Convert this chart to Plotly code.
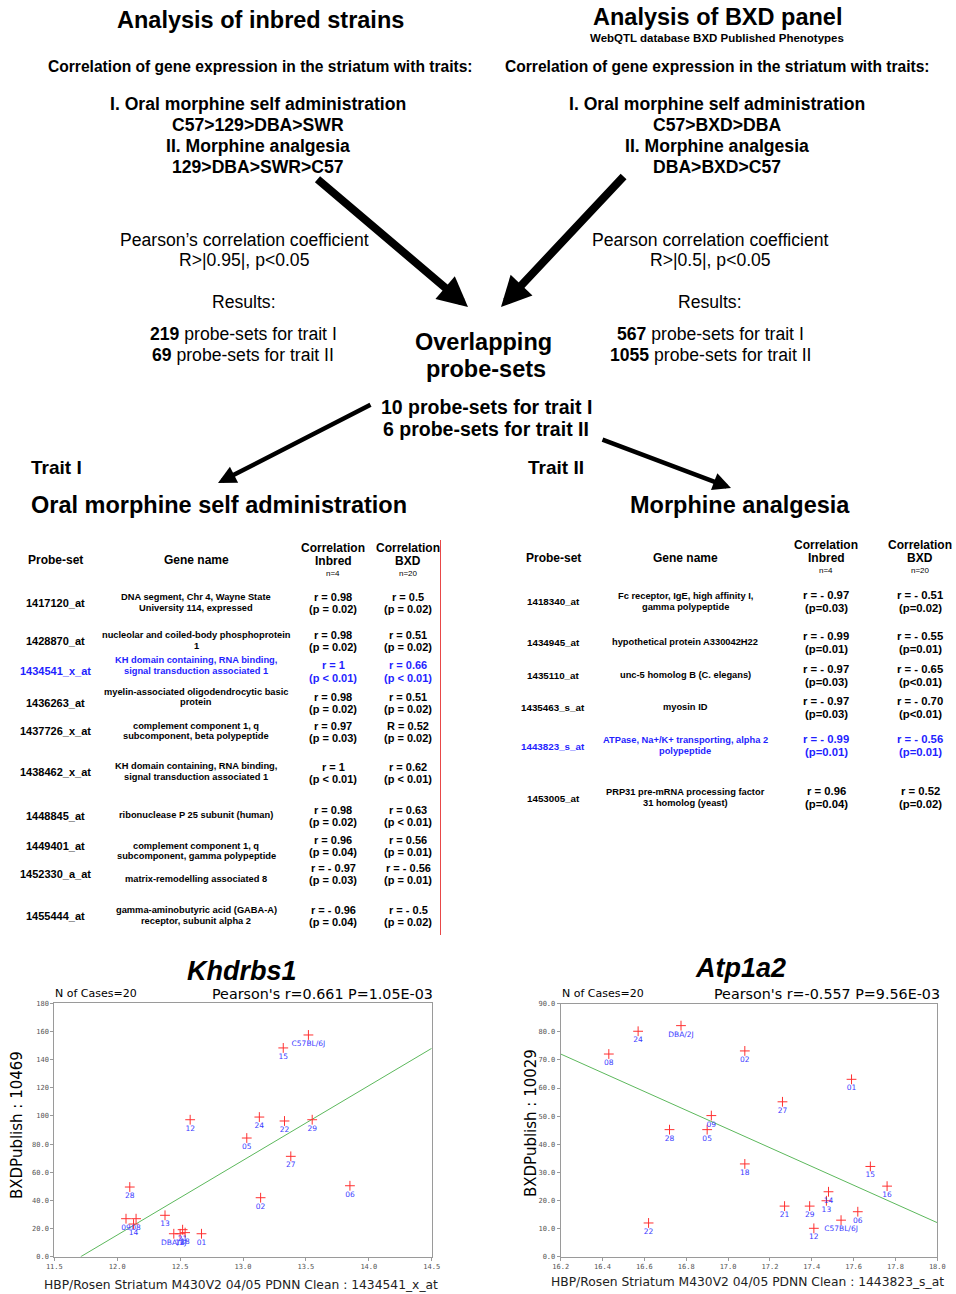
import plotly.graph_objects as go

W, H = 956, 1294
ARIAL = "Liberation Sans, Arial, sans-serif"
VERD = "DejaVu Sans, Verdana, sans-serif"
MONO = "DejaVu Sans Mono, monospace"

# ---------------- data: scatter plots ----------------
left_strains = ["C57BL/6J", "15", "12", "24", "22", "29", "05", "27", "28", "02",
                "06", "09", "08", "14", "13", "DBA/2J", "16", "21", "18", "01"]
left_x = [13.52, 13.32, 12.58, 13.13, 13.33, 13.55, 13.03, 13.38, 12.10, 13.14,
          13.85, 12.07, 12.15, 12.13, 12.38, 12.45, 12.50, 12.52, 12.54, 12.67]
left_y = [157.5, 148.3, 97.3, 99.2, 96.4, 97.3, 84.3, 71.3, 49.5, 41.9,
          50.4, 27.0, 27.0, 23.2, 29.4, 16.3, 16.3, 19.2, 17.1, 16.3]
left_fit_x = [11.71, 14.5]
left_fit_y = [0.0, 148.0]
left_xticks = [11.5, 12.0, 12.5, 13.0, 13.5, 14.0, 14.5]
left_xtick_labels = ["11.5", "12.0", "12.5", "13.0", "13.5", "14.0", "14.5"]
left_yticks = [0, 20, 40, 60, 80, 100, 120, 140, 160, 180]
left_ytick_labels = ["0.0", "20.0", "40.0", "60.0", "80.0", "100", "120", "140", "160", "180"]

right_strains = ["08", "24", "DBA/2J", "02", "01", "27", "09", "05", "28", "18",
                 "15", "16", "14", "13", "21", "29", "06", "C57BL/6J", "12", "22"]
right_x = [16.43, 16.57, 16.775, 17.08, 17.59, 17.26, 16.92, 16.90, 16.72, 17.08,
           17.68, 17.76, 17.48, 17.47, 17.27, 17.39, 17.62, 17.54, 17.41, 16.62]
right_y = [72.1, 80.2, 82.2, 73.2, 63.1, 55.1, 50.2, 45.2, 45.2, 33.0,
           32.1, 25.1, 23.1, 19.9, 18.0, 18.0, 16.0, 13.0, 10.1, 12.0]
right_fit_x = [16.2, 18.0]
right_fit_y = [72.1, 12.1]
right_xticks = [16.2, 16.4, 16.6, 16.8, 17.0, 17.2, 17.4, 17.6, 17.8, 18.0]
right_xtick_labels = ["16.2", "16.4", "16.6", "16.8", "17.0", "17.2", "17.4", "17.6", "17.8", "18.0"]
right_yticks = [0, 10, 20, 30, 40, 50, 60, 70, 80, 90]
right_ytick_labels = ["0.0", "10.0", "20.0", "30.0", "40.0", "50.0", "60.0", "70.0", "80.0", "90.0"]

# ---------------- data: tables ----------------
t1_probes = ["1417120_at", "1428870_at", "1434541_x_at", "1436263_at", "1437726_x_at",
             "1438462_x_at", "1448845_at", "1449401_at", "1452330_a_at", "1455444_at"]
t1_genes = ["DNA segment, Chr 4, Wayne State<br>University 114, expressed",
            "nucleolar and coiled-body phosphoprotein<br>1",
            "KH domain containing, RNA binding,<br>signal transduction associated 1",
            "myelin-associated oligodendrocytic basic<br>protein",
            "complement component 1, q<br>subcomponent, beta polypeptide",
            "KH domain containing, RNA binding,<br>signal transduction associated 1",
            "ribonuclease P 25 subunit (human)",
            "complement component 1, q<br>subcomponent, gamma polypeptide",
            "matrix-remodelling associated 8",
            "gamma-aminobutyric acid (GABA-A)<br>receptor, subunit alpha 2"]
t1_r_inbred = ["r = 0.98", "r = 0.98", "r = 1", "r = 0.98", "r = 0.97",
               "r = 1", "r = 0.98", "r = 0.96", "r = - 0.97", "r = - 0.96"]
t1_p_inbred = ["(p = 0.02)", "(p = 0.02)", "(p &lt; 0.01)", "(p = 0.02)", "(p = 0.03)",
               "(p &lt; 0.01)", "(p = 0.02)", "(p = 0.04)", "(p = 0.03)", "(p = 0.04)"]
t1_r_bxd = ["r = 0.5", "r = 0.51", "r = 0.66", "r = 0.51", "R = 0.52",
            "r = 0.62", "r = 0.63", "r = 0.56", "r = - 0.56", "r = - 0.5"]
t1_p_bxd = ["(p = 0.02)", "(p = 0.02)", "(p &lt; 0.01)", "(p = 0.02)", "(p = 0.02)",
            "(p &lt; 0.01)", "(p &lt; 0.01)", "(p = 0.01)", "(p = 0.01)", "(p = 0.02)"]
t1_highlight = 2

t2_probes = ["1418340_at", "1434945_at", "1435110_at", "1435463_s_at", "1443823_s_at", "1453005_at"]
t2_genes = ["Fc receptor, IgE, high affinity I,<br>gamma polypeptide",
            "hypothetical protein A330042H22",
            "unc-5 homolog B (C. elegans)",
            "myosin ID",
            "ATPase, Na+/K+ transporting, alpha 2<br>polypeptide",
            "PRP31 pre-mRNA processing factor<br>31 homolog (yeast)"]
t2_r_inbred = ["r = - 0.97", "r = - 0.99", "r = - 0.97", "r = - 0.97", "r = - 0.99", "r = 0.96"]
t2_p_inbred = ["(p=0.03)", "(p=0.01)", "(p=0.03)", "(p=0.03)", "(p=0.01)", "(p=0.04)"]
t2_r_bxd = ["r = - 0.51", "r = - 0.55", "r = - 0.65", "r = - 0.70", "r = - 0.56", "r = 0.52"]
t2_p_bxd = ["(p=0.02)", "(p=0.01)", "(p&lt;0.01)", "(p&lt;0.01)", "(p=0.01)", "(p=0.02)"]
t2_highlight = 4

# ---------------- layout helpers (pixel positions) ----------------
ann = []


def txt(x, y, s, size, bold=False, italic=False, color="black", family=ARIAL,
        xanchor="center", angle=0):
    if bold:
        s = "<b>" + s + "</b>"
    if italic:
        s = "<i>" + s + "</i>"
    ann.append(dict(x=x / W, y=1 - y / H, xref="paper", yref="paper", text=s,
                    showarrow=False, xanchor=xanchor, yanchor="middle", textangle=angle,
                    borderpad=0, font=dict(size=size, color=color, family=family)))


def lines(x, yc, s, size, spacing, **kw):
    parts = s.split("<br>")
    n = len(parts)
    for i, p in enumerate(parts):
        txt(x, yc + (i - (n - 1) / 2) * spacing, p, size, **kw)


def arrow(x0, y0, x1, y1, width, size):
    ann.append(dict(x=x1 / W, y=1 - y1 / H, xref="paper", yref="paper", text="",
                    showarrow=True, ax=x0 - x1, ay=y0 - y1, axref="pixel", ayref="pixel",
                    arrowhead=2, arrowwidth=width, arrowsize=size, arrowcolor="black"))


# ---------------- header ----------------
txt(260, 20, "Analysis of inbred strains", 23.5, bold=True)
txt(717, 17, "Analysis of BXD panel", 23.5, bold=True)
txt(717, 38, "WebQTL database BXD Published Phenotypes", 11.5, bold=True)
txt(260, 66, "Correlation of gene expression in the striatum with traits:", 15.6, bold=True)
txt(717, 66, "Correlation of gene expression in the striatum with traits:", 15.6, bold=True)
for i, (l, r) in enumerate(zip(["I. Oral morphine self administration", "C57&gt;129&gt;DBA&gt;SWR",
                                "II. Morphine analgesia", "129&gt;DBA&gt;SWR&gt;C57"],
                               ["I. Oral morphine self administration", "C57&gt;BXD&gt;DBA",
                                "II. Morphine analgesia", "DBA&gt;BXD&gt;C57"])):
    txt(258, 104 + 21 * i, l, 17.6, bold=True)
    txt(717, 104 + 21 * i, r, 17.6, bold=True)

txt(244, 240, "Pearson\u2019s correlation coefficient", 17.6)
txt(244, 260, "R&gt;|0.95|, p&lt;0.05", 17.6)
txt(244, 302, "Results:", 17.6)
txt(243, 334, "<b>219</b> probe-sets for trait I", 17.6)
txt(243, 355, "<b>69</b> probe-sets for trait II", 17.6)

txt(710, 240, "Pearson correlation coefficient", 17.6)
txt(710, 260, "R&gt;|0.5|, p&lt;0.05", 17.6)
txt(710, 302, "Results:", 17.6)
txt(710, 334, "<b>567</b> probe-sets for trait I", 17.6)
txt(710, 355, "<b>1055</b> probe-sets for trait II", 17.6)

txt(483, 342, "Overlapping", 23.5, bold=True)
txt(486, 369, "probe-sets", 23.5, bold=True)
txt(486, 407, "10 probe-sets for trait I", 19.5, bold=True)
txt(486, 429, "6 probe-sets for trait II", 19.5, bold=True)

txt(30, 467, "Trait I", 19, bold=True, xanchor="left")
txt(527, 467, "Trait II", 19, bold=True, xanchor="left")
txt(30, 505, "Oral morphine self administration", 23.5, bold=True, xanchor="left")
txt(740, 505, "Morphine analgesia", 23.5, bold=True)

arrow(316, 178, 468, 307, 8, 0.75)
arrow(625, 175, 501, 307, 8, 0.75)
arrow(372, 404, 218, 483, 4.5, 0.8)
arrow(601, 439, 731, 488, 4.5, 0.8)

# ---------------- tables ----------------
BLUE = "#1f1fff"


def table(cols, hdr_y, probes, genes, r_in, p_in, r_bx, p_bx, hl, row_y,
          probe_size, corr_size, corr_sp, n_size):
    cx_p, cx_g, cx_i, cx_b = cols
    txt(cx_p, hdr_y, "Probe-set", 12, bold=True)
    txt(cx_g, hdr_y, "Gene name", 12, bold=True)
    for cx, lab, n in ((cx_i, "Inbred", "n=4"), (cx_b, "BXD", "n=20")):
        txt(cx, hdr_y - 12.5, "Correlation", 12, bold=True)
        txt(cx, hdr_y + 0.5, lab, 12, bold=True)
        txt(cx, hdr_y + 13, n, n_size)
    for k, (pr, g, ri, pi, rb, pb) in enumerate(zip(probes, genes, r_in, p_in, r_bx, p_bx)):
        col = BLUE if k == hl else "black"
        py, gy, cy = row_y[k]
        txt(cx_p, py, pr, probe_size, bold=True, color=col)
        lines(cx_g, gy, g, 9.3, 10.8, bold=True, color=col)
        lines(cx_i, cy, ri + "<br>" + pi, corr_size, corr_sp, bold=True, color=col)
        lines(cx_b, cy, rb + "<br>" + pb, corr_size, corr_sp, bold=True, color=col)


t1_rows = [(603, 602.5, 603), (641, 640.5, 641), (671, 665.5, 671.5), (703, 697, 702.5),
           (731, 731, 731.5), (772, 771.5, 772.5), (816, 815, 815.5), (846, 851, 846),
           (874, 879, 874), (916, 915.5, 916)]
t2_rows = [(601, 601.5, 601.5), (642, 642, 642.5), (675, 675, 675.5), (707, 707, 707.5),
           (746, 745.5, 745.5), (798, 797.5, 797.5)]

table((55, 196, 333, 408), 560.5, t1_probes, t1_genes, t1_r_inbred, t1_p_inbred,
      t1_r_bxd, t1_p_bxd, t1_highlight, t1_rows, 11, 11, 12, 8)
table((553, 685, 826, 920), 557.5, t2_probes, t2_genes, t2_r_inbred, t2_p_inbred,
      t2_r_bxd, t2_p_bxd, t2_highlight, t2_rows, 9.8, 11.3, 13, 8)

shapes = [dict(type="line", xref="paper", yref="paper", x0=440.5 / W, x1=440.5 / W,
               y0=1 - 540 / H, y1=1 - 935 / H, line=dict(color="#e84848", width=1))]

# ---------------- scatter panel texts ----------------
txt(242, 971, "Khdrbs1", 27, bold=True, italic=True)
txt(740, 968, "Atp1a2", 27, bold=True, italic=True)
txt(54, 993, "N of Cases=20", 11, family=VERD, xanchor="left")
txt(561, 993, "N of Cases=20", 11, family=VERD, xanchor="left")
txt(434, 994, "Pearson's r=0.661 P=1.05E-03", 14.3, family=VERD, xanchor="right")
txt(941, 994, "Pearson's r=-0.557 P=9.56E-03", 14.3, family=VERD, xanchor="right")
txt(17, 1125, "BXDPublish : 10469", 15, family=VERD, angle=-90)
txt(531, 1123, "BXDPublish : 10029", 15, family=VERD, angle=-90)
txt(241, 1285, "HBP/Rosen Striatum M430V2 04/05 PDNN Clean : 1434541_x_at", 12.3, family=VERD, color="#222")
txt(747, 1282, "HBP/Rosen Striatum M430V2 04/05 PDNN Clean : 1443823_s_at", 12.3, family=VERD, color="#222")

# ---------------- traces ----------------
RED = "#ff3030"
LBLUE = "#3a3aff"
GREEN = "#5cb85c"
fig = go.Figure()
for xs, ys, labs, fx, fy, xa, ya in ((left_x, left_y, left_strains, left_fit_x, left_fit_y, "x", "y"),
                                     (right_x, right_y, right_strains, right_fit_x, right_fit_y, "x2", "y2")):
    fig.add_trace(go.Scatter(x=fx, y=fy, mode="lines", xaxis=xa, yaxis=ya,
                             line=dict(color=GREEN, width=1), hoverinfo="skip"))
    fig.add_trace(go.Scatter(x=xs, y=ys, mode="markers+text", text=labs, xaxis=xa, yaxis=ya,
                             textposition="bottom center",
                             textfont=dict(family=VERD, size=7.5, color=LBLUE),
                             marker=dict(symbol="cross-thin", size=7, color=RED,
                                         line=dict(color=RED, width=1))))

axis_style = dict(showline=True, mirror=True, linecolor="#9a9a9a", linewidth=1,
                  ticks="outside", ticklen=3, tickcolor="#9a9a9a", showgrid=False,
                  zeroline=False, tickfont=dict(family=MONO, size=7, color="#555"),
                  fixedrange=True, automargin=False)
ybot = 1 - 1256.7 / H
fig.update_layout(
    width=W, height=H, autosize=False,
    margin=dict(l=0, r=0, t=0, b=0, pad=0, autoexpand=False),
    paper_bgcolor="white", plot_bgcolor="white", showlegend=False,
    annotations=ann, shapes=shapes,
    xaxis=dict(domain=[54.3 / W, 431.7 / W], range=[11.5, 14.5], anchor="y",
               tickvals=left_xticks, ticktext=left_xtick_labels, **axis_style),
    yaxis=dict(domain=[ybot, 1 - 1003.3 / H], range=[0, 180], anchor="x",
               tickvals=left_yticks, ticktext=left_ytick_labels, **axis_style),
    xaxis2=dict(domain=[560.7 / W, 937.3 / W], range=[16.2, 18.0], anchor="y2",
                tickvals=right_xticks, ticktext=right_xtick_labels, **axis_style),
    yaxis2=dict(domain=[ybot, 1 - 1003.7 / H], range=[0, 90], anchor="x2",
                tickvals=right_yticks, ticktext=right_ytick_labels, **axis_style),
)

fig.write_html("out.html", config={"displayModeBar": False},
               post_script="document.body.style.margin='0';document.body.style.overflow='hidden';")
